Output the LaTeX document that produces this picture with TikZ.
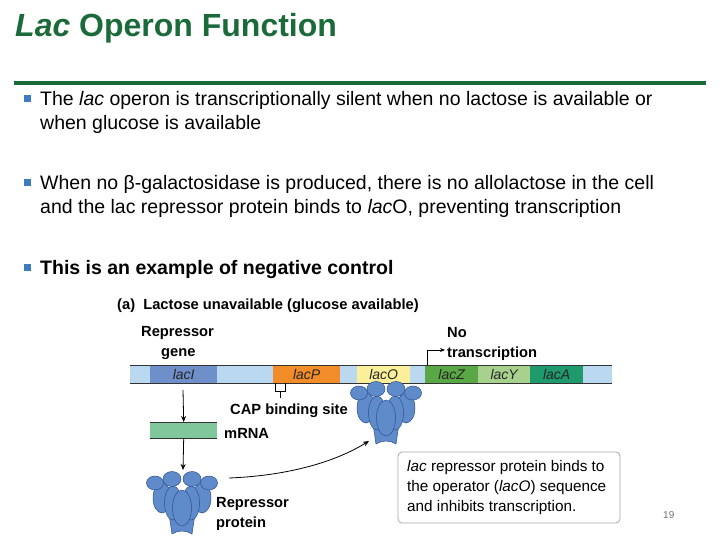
\documentclass[tikz,border=0pt]{standalone}
\usepackage{fontspec}
\setmainfont{Liberation Sans}
\usetikzlibrary{arrows.meta}
\definecolor{ttl}{HTML}{1B6B3A}
\definecolor{bul}{HTML}{3E7CC0}
\definecolor{dnab}{HTML}{BAD8EF}
\definecolor{cI}{HTML}{6F8FCA}
\definecolor{cP}{HTML}{F28C28}
\definecolor{cO}{HTML}{FBEF9A}
\definecolor{cZ}{HTML}{5AA845}
\definecolor{cY}{HTML}{A9D18E}
\definecolor{cA}{HTML}{1E9A6C}
\definecolor{mrna}{HTML}{80C89B}
\definecolor{prot}{HTML}{5F8BCB}
\definecolor{protd}{HTML}{2D508F}
\tikzset{
 txt/.style={inner sep=0pt,anchor=base west,font=\fontsize{19.5}{22}\selectfont},
 lbl/.style={inner sep=0pt,font=\fontsize{14.7}{17}\selectfont\bfseries},
 box/.style={inner sep=0pt,anchor=base west,font=\fontsize{15.3}{17}\selectfont},
 gene/.style={draw=none,inner sep=0pt,minimum height=18pt,anchor=west,text=black!85,font=\fontsize{14}{15}\selectfont\itshape},
 bsq/.style={fill=bul,draw=none,minimum size=7pt,inner sep=0pt},
 arr/.style={-{Stealth[length=6pt,width=5pt]},line width=0.8pt},
 repressor/.pic={
  \begin{scope}[fill=prot,draw=protd,line width=0.5pt]
   \filldraw (-13,40) -- (13,40) -- (10,60) .. controls (4,56) and (-4,56) .. (-10,60) -- cycle;
   \filldraw (-20,24) ellipse (9 and 15);
   \filldraw (20,24) ellipse (9 and 15);
   \filldraw (-9,29) ellipse (8.5 and 17);
   \filldraw (9,29) ellipse (8.5 and 17);
   \filldraw (0,34) ellipse (9.5 and 18);
   \filldraw (-27,9) ellipse (8.5 and 7);
   \filldraw (27,9) ellipse (8.5 and 7);
   \filldraw (-10,5) ellipse (9 and 7.5);
   \filldraw (10,5) ellipse (9 and 7.5);
  \end{scope}
 }
}
\begin{document}
\begin{tikzpicture}[x=1pt,y=-1pt]
\useasboundingbox (0,0) rectangle (720,540);
\node[inner sep=0pt,anchor=base west,text=ttl,font=\fontsize{32}{34}\selectfont\bfseries] (title) at (15,37) {\textit{Lac} Operon Function};
\draw[ttl,line width=4pt] (14,83) -- (706,83);
\node[bsq] (b1) at (27,99) {};
\node[txt] (t1) at (40,106) {The \textit{lac} operon is transcriptionally silent when no lactose is available or};
\node[txt] (t1b) at (40,130) {when glucose is available};
\node[bsq] (b2) at (27,183) {};
\node[txt] (t2) at (40,190) {When no β-galactosidase is produced, there is no allolactose in the cell};
\node[txt] (t2b) at (40,214) {and the lac repressor protein binds to \textit{lac}O, preventing transcription};
\node[bsq] (b3) at (27,267) {};
\node[txt,font=\fontsize{19.5}{22}\selectfont\bfseries] (t3) at (40,274) {This is an example of negative control};
% diagram
\node[lbl,anchor=base west] (head) at (117,309) {(a)\ \ Lactose unavailable (glucose available)};
\node[lbl,anchor=base west] (rg) at (141,336) {Repressor};
\node[lbl,anchor=base west] (rg2) at (161,356) {gene};
\node[lbl,anchor=base west] (nt1) at (447,337) {No};
\node[lbl,anchor=base west] (nt2) at (447,357) {transcription};
\fill[dnab] (130,365) rectangle (612,383);
\node[gene,fill=cI,minimum width=67pt] (lacI) at (150,374) {lacI};
\node[gene,fill=cP,minimum width=67pt] (lacP) at (273,374) {lacP};
\node[gene,fill=cO,minimum width=53pt] (lacO) at (357,374) {lacO};
\node[gene,fill=cZ,minimum width=53pt] (lacZ) at (425,374) {lacZ};
\node[gene,fill=cY,minimum width=52pt] (lacY) at (478,374) {lacY};
\node[gene,fill=cA,minimum width=53pt] (lacA) at (530,374) {lacA};
\draw[line width=1pt,black!80] (130,365) -- (612,365) (130,383) -- (612,383);
\coordinate (ts) at (427,365);
\coordinate (te) at (445,350);
\draw[-{Stealth[length=5pt,width=4pt]},line width=0.7pt] (ts) |- (te);
\draw[line width=0.7pt] (275,383) -- (275,391) -- (285,391) -- (285,383) (280,391) -- (280,398);
\node[lbl,anchor=base west] (cap) at (230,414) {CAP binding site};
\node[draw=none,fill=mrna,minimum width=67pt,minimum height=16pt,inner sep=0pt,anchor=north west] (mrna) at (150,422) {};
\draw[line width=1pt,black!80] (mrna.north west) -- (mrna.north east) (mrna.south west) -- (mrna.south east);
\node[lbl,anchor=base west] (mr) at (224,438) {mRNA};
\draw[arr] (183,390) -- (mrna.north);
\draw[arr] (mrna.south) -- (183,470);
\pic (p1) at (386,384) {repressor};
\pic (p2) at (182,474) {repressor};
\coordinate (cs) at (229,478);
\coordinate (ce) at (369,441);
\draw[arr] (cs) .. controls (280,476) and (330,465) .. (ce);
\node[lbl,anchor=base west] (rp1) at (216,507) {Repressor};
\node[lbl,anchor=base west] (rp2) at (216,527) {protein};
\draw[black!35,rounded corners=4pt,line width=0.8pt] (398,452) rectangle (620,523);
\node[box] (bx1) at (407,471) {\textit{lac} repressor protein binds to};
\node[box] (bx2) at (407,491) {the operator (\textit{lacO}) sequence};
\node[box] (bx3) at (407,511) {and inhibits transcription.};
\node[inner sep=0pt,anchor=base west,text=black!55,font=\fontsize{10}{12}\selectfont] (pg) at (663,518) {19};
\end{tikzpicture}
\end{document}
